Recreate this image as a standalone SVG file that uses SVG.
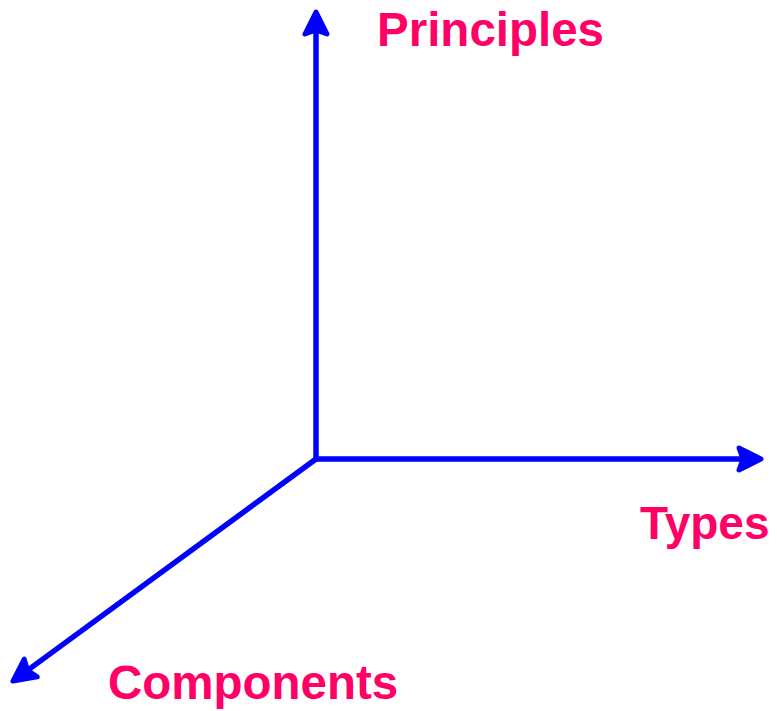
<svg xmlns="http://www.w3.org/2000/svg" width="777" height="711" viewBox="0 0 777 711">
<style>
.axis{stroke:#0000FF;stroke-width:5.5;fill:none;stroke-linecap:round}
.lbl{font-family:"Liberation Sans",Arial,sans-serif;font-weight:bold;font-size:47.5px;fill:#FF0066}
</style>
<defs>
<marker id="ah" markerUnits="userSpaceOnUse" viewBox="-28 -15 32 30" refX="-18" refY="0" markerWidth="32" markerHeight="30" orient="auto">
<path d="M0,0 L-22,-11 L-18,0 L-22,11 Z" fill="#0000FF" stroke="#0000FF" stroke-width="5" stroke-linejoin="round"/>
</marker>
</defs>
<rect width="777" height="711" fill="#FFFFFF"/>
<g id="connectors">
<line class="axis" x1="316" y1="459" x2="316" y2="30" marker-end="url(#ah)"/>
<line class="axis" x1="316" y1="459" x2="743" y2="459" marker-end="url(#ah)"/>
<line class="axis" x1="316" y1="459" x2="27.5" y2="670.4" marker-end="url(#ah)"/>
</g>
<g id="principles"><text class="lbl" x="377" y="46">Principles</text></g>
<g id="types"><text class="lbl" x="640" y="539" style="font-size:46px">Types</text></g>
<g id="components"><text class="lbl" x="108" y="699">Components</text></g>
</svg>
